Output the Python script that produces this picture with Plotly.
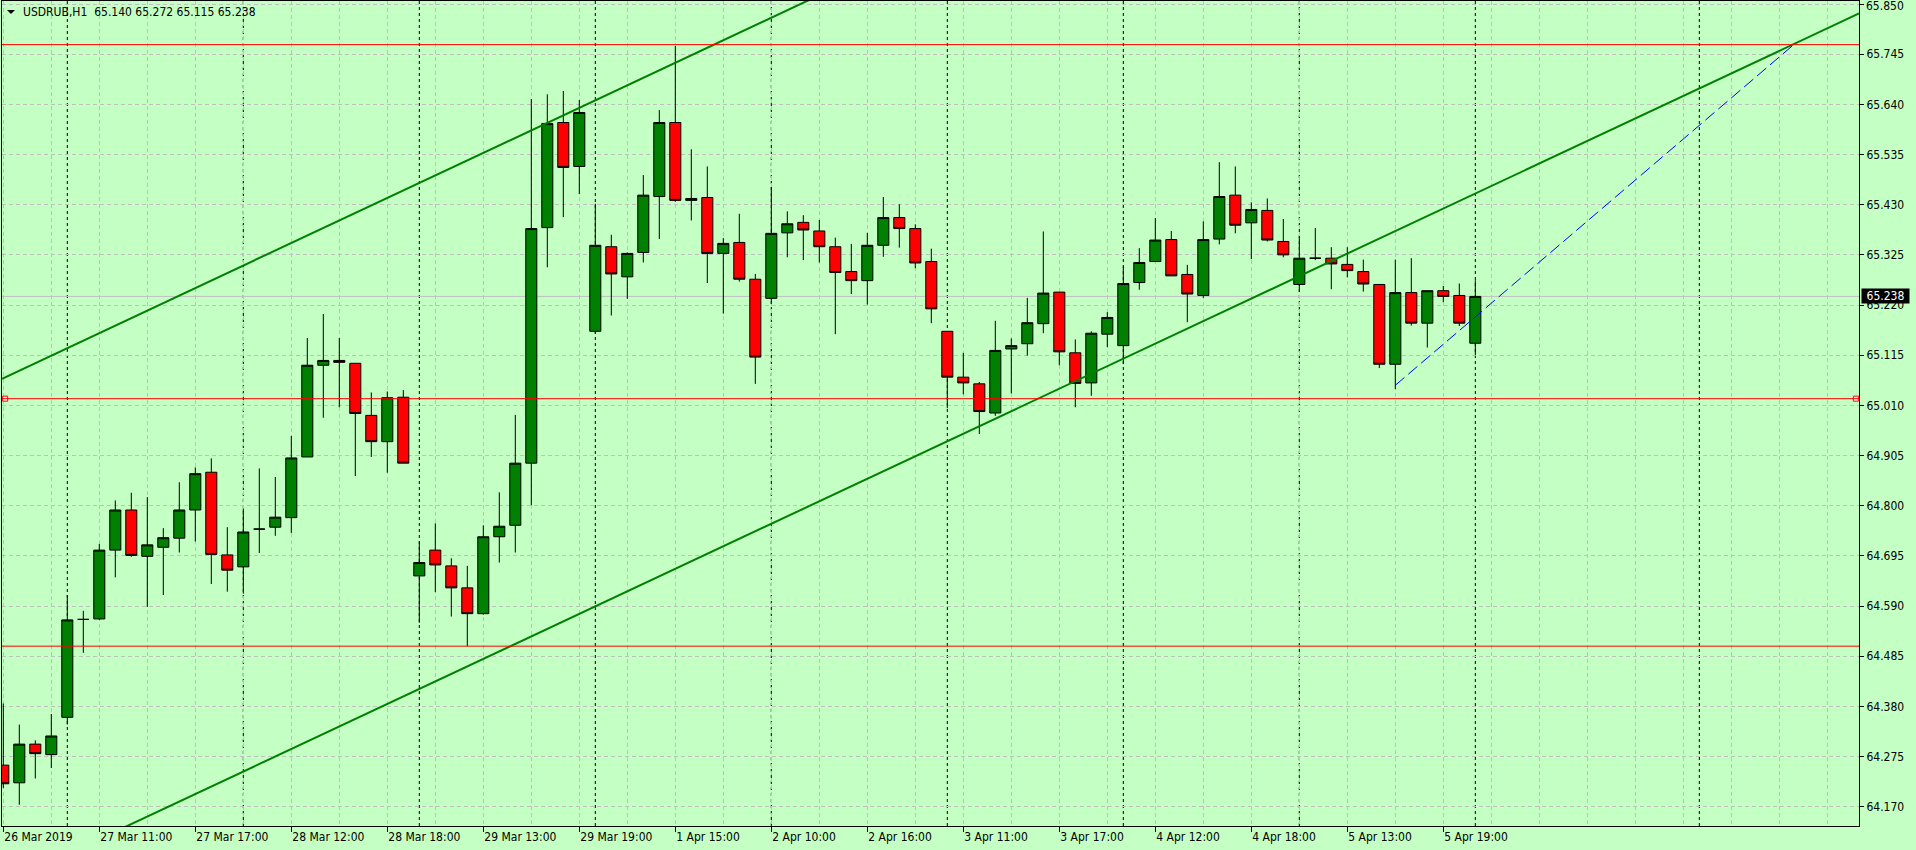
import plotly.graph_objects as go

# ---------------- data ----------------
TITLE_SYMBOL = "USDRUB,H1"
TITLE_OHLC = ["65.140", "65.272", "65.115", "65.238"]

BAR_INDEX = list(range(93))
OPEN = [64.257, 64.220, 64.301, 64.279, 64.357, 64.562, 64.563, 64.707, 64.791, 64.694,
        64.713, 64.732, 64.791, 64.870, 64.697, 64.672, 64.751, 64.755, 64.775, 64.902,
        65.094, 65.104, 65.098, 64.989, 64.934, 65.027, 64.653, 64.707, 64.674, 64.628,
        64.574, 64.735, 64.759, 64.889, 65.382, 65.602, 65.510, 65.165, 65.342, 65.279,
        65.330, 65.447, 65.602, 65.439, 65.445, 65.328, 65.351, 65.274, 65.234, 65.371,
        65.393, 65.375, 65.342, 65.290, 65.271, 65.345, 65.403, 65.380, 65.311, 65.165,
        65.069, 65.055, 64.994, 65.128, 65.139, 65.181, 65.247, 65.120, 65.057, 65.159,
        65.135, 65.267, 65.311, 65.357, 65.284, 65.240, 65.358, 65.450, 65.392, 65.418,
        65.353, 65.263, 65.318, 65.318, 65.305, 65.290, 65.263, 65.096, 65.246, 65.182,
        65.250, 65.240, 65.140]
HIGH = [64.386, 64.342, 64.309, 64.364, 64.613, 64.580, 64.720, 64.811, 64.827, 64.818,
        64.753, 64.849, 64.880, 64.899, 64.755, 64.794, 64.878, 64.860, 64.946, 65.151,
        65.201, 65.151, 65.098, 65.037, 65.039, 65.042, 64.725, 64.763, 64.690, 64.674,
        64.759, 64.828, 64.990, 65.651, 65.661, 65.668, 65.649, 65.432, 65.367, 65.330,
        65.492, 65.628, 65.762, 65.546, 65.510, 65.360, 65.411, 65.285, 65.467, 65.416,
        65.408, 65.398, 65.361, 65.348, 65.371, 65.446, 65.431, 65.389, 65.338, 65.165,
        65.120, 65.059, 65.187, 65.150, 65.235, 65.374, 65.247, 65.148, 65.165, 65.205,
        65.301, 65.339, 65.402, 65.375, 65.304, 65.395, 65.519, 65.510, 65.435, 65.443,
        65.400, 65.363, 65.381, 65.341, 65.341, 65.315, 65.263, 65.315, 65.318, 65.250,
        65.260, 65.265, 65.272]
LOW = [64.209, 64.174, 64.229, 64.251, 64.342, 64.492, 64.561, 64.650, 64.693, 64.588,
       64.613, 64.702, 64.725, 64.636, 64.620, 64.616, 64.701, 64.737, 64.743, 64.902,
       64.984, 65.006, 64.862, 64.902, 64.869, 64.889, 64.555, 64.619, 64.568, 64.506,
       64.572, 64.681, 64.702, 64.801, 65.299, 65.404, 65.452, 65.160, 65.198, 65.233,
       65.309, 65.358, 65.436, 65.397, 65.266, 65.202, 65.269, 65.055, 65.222, 65.320,
       65.314, 65.309, 65.159, 65.243, 65.221, 65.321, 65.340, 65.297, 65.182, 65.004,
       65.033, 64.950, 64.988, 65.035, 65.114, 65.161, 65.094, 65.006, 65.030, 65.132,
       65.097, 65.252, 65.311, 65.281, 65.184, 65.235, 65.347, 65.370, 65.316, 65.353,
       65.320, 65.247, 65.314, 65.253, 65.278, 65.248, 65.088, 65.044, 65.177, 65.131,
       65.226, 65.176, 65.115]
CLOSE = [64.218, 64.301, 64.281, 64.318, 64.561, 64.562, 64.707, 64.791, 64.696, 64.718,
         64.733, 64.791, 64.867, 64.698, 64.665, 64.745, 64.751, 64.776, 64.900, 65.094,
         65.104, 65.100, 64.993, 64.934, 65.026, 64.889, 64.681, 64.676, 64.628, 64.574,
         64.735, 64.757, 64.889, 65.380, 65.600, 65.508, 65.623, 65.345, 65.285, 65.328,
         65.450, 65.602, 65.439, 65.443, 65.328, 65.349, 65.274, 65.111, 65.370, 65.390,
         65.377, 65.342, 65.288, 65.271, 65.345, 65.403, 65.380, 65.308, 65.212, 65.069,
         65.057, 64.997, 65.125, 65.135, 65.183, 65.245, 65.122, 65.056, 65.161, 65.194,
         65.265, 65.309, 65.356, 65.281, 65.243, 65.357, 65.447, 65.387, 65.420, 65.356,
         65.325, 65.318, 65.318, 65.306, 65.292, 65.264, 65.096, 65.246, 65.182, 65.250,
         65.238, 65.182, 65.238]

X_TICK_BARS = [0, 6, 12, 18, 24, 30, 36, 42, 48, 54, 60, 66, 72, 78, 84, 90]
X_TICK_LABELS = ["26 Mar 2019", "27 Mar 11:00", "27 Mar 17:00", "28 Mar 12:00",
                 "28 Mar 18:00", "29 Mar 13:00", "29 Mar 19:00", "1 Apr 15:00",
                 "2 Apr 10:00", "2 Apr 16:00", "3 Apr 11:00", "3 Apr 17:00",
                 "4 Apr 12:00", "4 Apr 18:00", "5 Apr 13:00", "5 Apr 19:00"]
GRID_BARS = [0, 3, 6, 9, 12, 15, 18, 21, 24, 27, 30, 33, 36, 39, 42, 45, 48, 51, 54, 57,
             60, 63, 66, 69, 72, 75, 78, 81, 84, 87, 90, 93, 96, 99, 102, 105, 108, 111, 114]
SEPARATOR_BARS = [4, 15, 26, 37, 48, 59, 70, 81, 92, 106]
PRICE_TICKS = [64.170, 64.275, 64.380, 64.485, 64.590, 64.695, 64.800, 64.905, 65.010,
               65.115, 65.220, 65.325, 65.430, 65.535, 65.640, 65.745, 65.850]
HLINE_LEVELS = [65.765, 65.024, 64.506]
SELECTED_LEVEL = 65.024
BID = 65.238
UPPER_TREND = [(0, 65.067), (49, 65.837)]
LOWER_TREND = [(0, 64.008), (111.9, 65.766)]
BLUE_TREND = [(87, 65.052), (111.9, 65.765)]
X_RANGE = [-0.081, 115.98]
Y_RANGE = [64.1296, 65.8563]

# ---------------- styling ----------------
BG = "rgb(196,255,196)"
GRID = "#C0C0C0"
FONT = "DejaVu Sans Condensed, Liberation Sans Narrow, Tahoma, Liberation Sans, sans-serif"
W, H = 1916, 850
ML, MR, MT, MB = 2, 57, 1, 24
PW, PH = W - ML - MR, H - MT - MB


def px_x(px):
    return (px - ML) / PW


def px_y(py):
    return 1 - (py - MT) / PH


def extend(pts, xr):
    (x0, y0), (x1, y1) = pts
    k = (y1 - y0) / (x1 - x0)
    return [xr[0], xr[1]], [y0 + k * (xr[0] - x0), y0 + k * (xr[1] - x0)]


fig = go.Figure()
fig.add_trace(go.Candlestick(
    x=BAR_INDEX, open=OPEN, high=HIGH, low=LOW, close=CLOSE,
    increasing=dict(line=dict(color="black", width=1), fillcolor="#008000"),
    decreasing=dict(line=dict(color="black", width=1), fillcolor="#FF0000"),
    whiskerwidth=0, hoverinfo="skip", showlegend=False))

for pts in (UPPER_TREND, LOWER_TREND):
    xs, ys = extend(pts, X_RANGE)
    fig.add_trace(go.Scatter(x=xs, y=ys, mode="lines", line=dict(color="#008000", width=2),
                             hoverinfo="skip", showlegend=False))

fig.add_trace(go.Scatter(x=[p[0] for p in BLUE_TREND], y=[p[1] for p in BLUE_TREND],
                         mode="lines", line=dict(color="#0000FF", width=1, dash="12px,5px"),
                         hoverinfo="skip", showlegend=False))

# separators (behind candles)
for b in SEPARATOR_BARS:
    fig.add_shape(type="line", x0=b, x1=b, xref="x", y0=0, y1=1, yref="paper",
                  line=dict(color="black", width=1, dash="3px,3px"), layer="between")

# bid line
fig.add_shape(type="line", x0=0, x1=1, xref="paper", y0=BID, y1=BID, yref="y",
              line=dict(color="#C0C0C0", width=1), layer="between")

# horizontal levels
for lv in HLINE_LEVELS:
    fig.add_shape(type="line", x0=0, x1=1, xref="paper", y0=lv, y1=lv, yref="y",
                  line=dict(color="#FF0000", width=1), layer="above")

# selection squares of the selected level
span = X_RANGE[1] - X_RANGE[0]
fig.add_trace(go.Scatter(x=[X_RANGE[0] + span * 0.0017, X_RANGE[1] - span * 0.0017],
                         y=[SELECTED_LEVEL, SELECTED_LEVEL], mode="markers",
                         marker=dict(symbol="square", size=5, color="white",
                                     line=dict(color="#FF0000", width=1)),
                         hoverinfo="skip", showlegend=False, cliponaxis=False))

# title
fig.add_annotation(xref="paper", yref="paper", x=px_x(21), y=px_y(12.5), xanchor="left",
                   yanchor="middle", showarrow=False,
                   text=TITLE_SYMBOL + "\u00a0\u00a0" + " ".join(TITLE_OHLC),
                   font=dict(family=FONT, size=12, color="black"))
fig.add_shape(type="path", xref="paper", yref="paper",
              path="M {} {} L {} {} L {} {} Z".format(px_x(7), px_y(10), px_x(15), px_y(10),
                                                     px_x(11), px_y(14)),
              fillcolor="black", line=dict(width=0), layer="above")

# bid price tag
fig.add_annotation(xref="paper", yref="y", x=1, y=BID, xanchor="left", yanchor="middle",
                   xshift=2, showarrow=False, text="{:.3f}".format(BID),
                   font=dict(family=FONT, size=12, color="white"), bgcolor="black",
                   borderpad=1, width=45, height=12, align="center")

# the top price label sits just inside the window edge (drawn as annotation so it is not cut)
top_tick = PRICE_TICKS[-1]
fig.add_annotation(xref="paper", yref="paper", x=1, y=px_y(5.5), xanchor="left",
                   yanchor="middle", xshift=6, showarrow=False, text="{:.3f}".format(top_tick),
                   font=dict(family=FONT, size=12, color="black"), borderpad=0)
tick_text = ["{:.3f}".format(v) for v in PRICE_TICKS]
tick_text[-1] = ""

fig.update_layout(
    width=W, height=H, autosize=False,
    margin=dict(l=ML, r=MR, t=MT, b=MB, pad=0, autoexpand=False),
    paper_bgcolor=BG, plot_bgcolor=BG,
    font=dict(family=FONT, size=12, color="black"),
    boxgap=0.31, boxgroupgap=0,
    showlegend=False,
    xaxis=dict(range=X_RANGE, rangeslider=dict(visible=False), automargin=False,
               tickmode="array", tickvals=X_TICK_BARS, ticktext=X_TICK_LABELS,
               ticks="outside", ticklen=5, tickcolor="black", tickwidth=1,
               ticklabelposition="outside right", ticklabeloverflow="allow",
               showgrid=True, gridcolor=GRID, griddash="4px,3px", gridwidth=1,
               minor=dict(tickmode="array", tickvals=GRID_BARS, showgrid=True,
                          gridcolor=GRID, griddash="4px,3px", gridwidth=1),
               showline=True, linecolor="black", linewidth=1, mirror=True,
               zeroline=False, fixedrange=True),
    yaxis=dict(range=Y_RANGE, side="right", tickmode="array", tickvals=PRICE_TICKS,
               ticktext=tick_text, automargin=False,
               ticks="outside", ticklen=4, tickcolor="black", tickwidth=1,
               ticklabeloverflow="allow",
               showgrid=True, gridcolor=GRID, griddash="4px,3px", gridwidth=1,
               showline=True, linecolor="black", linewidth=1, mirror=True,
               zeroline=False, fixedrange=True),
)

fig.write_html("out.html", config={"displayModeBar": False},
               post_script="document.body.style.margin='0';document.body.style.overflow='hidden';")
